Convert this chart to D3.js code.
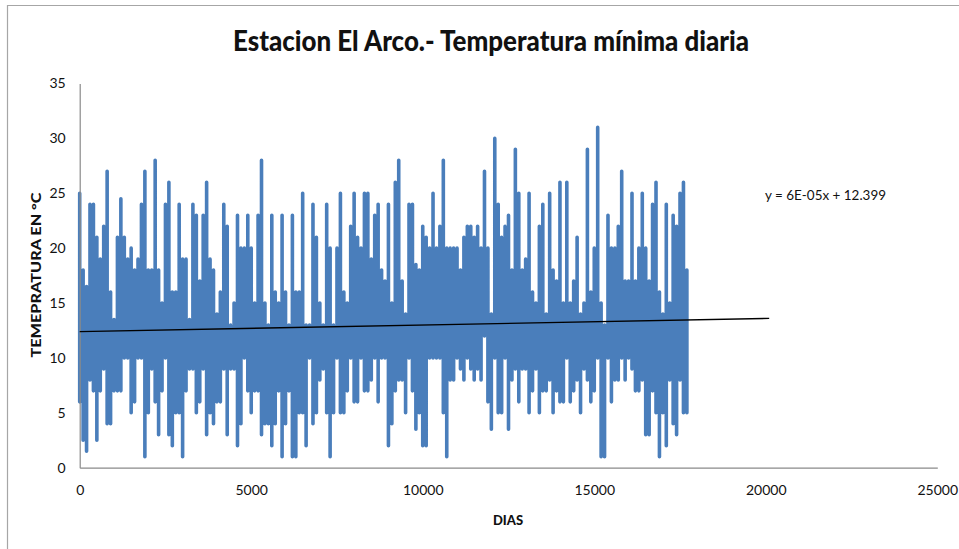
<!DOCTYPE html>
<html><head><meta charset="utf-8">
<script src="https://cdn.jsdelivr.net/npm/d3@7"></script>
<style>html,body{margin:0;padding:0;background:#fff}svg{display:block}text{font-family:Lato,"Noto Sans",sans-serif;fill:#111}</style>
</head><body><div id="c"></div>
<script>
const titleText = "Estacion El Arco.- Temperatura mínima diaria";
const xTitle = "DIAS";
const yTitle = "TEMEPRATURA EN °C";
const trendLabel = "y = 6E-05x + 12.399";
const xTicks = [0,5000,10000,15000,20000,25000];
const yTicks = [0,5,10,15,20,25,30,35];
const trendDays = [0,20100];
const trendSlope = 6e-5, trendIntercept = 12.399;
const dayStep = 100;
// Upper and lower reach of the daily series in each 100-day window
const highs = [25,18,16.5,24,24,21,19,22,27,16,13.5,21,24.5,21,19,20,18,19,24,27,18,18,28,18,15,24,26,16,16,24,19,19,13.5,24,23,17,23,26,19,18,14,16,24,22,13,15,23,20,20,23,20,15,23,28,15,13,23,16,15,23,16,13,23,16,16,25,13,13,24,21,15,13,24,20,13,20,25,16,15,22,25,21,20,25,25,19,23,24,18,17,24,
15,26,28,17,14,24,24,18.5,18,22,21,20,25,20,22,28,20,20,20,20,18,21,22,22,21,22,20,27,20,14,30,24,21,22,23,18,29,25,18,19,25,16,15,22,24,14,25,18,17,26,15,26,15,17,21,14,15,29,16,20,31,15,13,23,20,20,22,27,17,17,25,17,20,25,20,17,24,26,16,14,24,15,23,22,25,26,18];
const lows = [6,2.5,1.5,8,7,2.5,7,9,4,4,7,7,7,10,10,5,6,10,10,1,5,9,6,3,7,10,3,2,5,5,1,7,9,9,5,6,9,3,5,4,6,6,9,3,9,9,2,4,10,7,5,7,7,3,4,4,2,4,7,1,4,7,1,1,5,5,2,10,4,5,8,9,5,1,5,10,5,5,7,10,6,6,10,7,7,8,10,6,10,10,2,
4,7,8,8,5,10,7,3.5,5,2,2,10,10,10,10,5,1,8,8,10,9,8,10,9,8,9,8,12,6,3.5,10,5,5,10,3.5,8,9,6,9,9,5,7,9,5,7,7,8,5,7,6,6,10,6,7,8,5,9,8,6,7,10,1,1,10,6,8,8,10,8,10,9,7,7,8,3,3,7,5,1,5,2,8,4,3,8,5,5];

const W=959,H=549;
const m={l:79.7,r:937.3,t:83.5,b:467.7};
const x=d3.scaleLinear().domain([0,25000]).range([m.l,m.r]);
const y=d3.scaleLinear().domain([0,35]).range([m.b,m.t]);
const svg=d3.select("#c").append("svg").attr("width",W).attr("height",H);

// chart frame
svg.append("path").attr("d",d3.line()([[7.5,H],[7.5,5.5],[W,5.5]])).attr("fill","none").attr("stroke","#a6a6a6").attr("stroke-width",1.2);

// series: each window is one up-and-down stroke of the daily line
const pts=[];
highs.forEach((h,i)=>{
  const d=i*dayStep;
  pts.push([d,h]);pts.push([d,lows[i]]);pts.push(null);
});
const line=d3.line().defined(d=>d!==null).x(d=>x(d[0])).y(d=>y(d[1]));
svg.append("path").datum(pts).attr("d",line).attr("fill","none").attr("stroke","#4a7ebb").attr("stroke-width",3.6).attr("stroke-linejoin","round").attr("stroke-linecap","round");

// axes
const gx=svg.append("g").attr("transform",`translate(0,${m.b})`).call(d3.axisBottom(x).tickValues(xTicks).tickSize(0).tickPadding(17).tickFormat(d3.format("d")));
const gy=svg.append("g").attr("transform",`translate(${m.l},0)`).call(d3.axisLeft(y).tickValues(yTicks).tickSize(0).tickPadding(14));
[gx,gy].forEach(g=>{g.selectAll("text").style("font-size","14px").attr("fill","#111");g.select(".domain").attr("stroke","#8a8a8a").attr("stroke-width",1.2);});

// trend
svg.append("path").datum(trendDays.map(d=>[d,trendSlope*d+trendIntercept])).attr("d",line).attr("fill","none").attr("stroke","#000").attr("stroke-width",1.4);

svg.append("text").attr("x",491).attr("y",51).attr("text-anchor","middle").attr("font-weight",900).attr("font-size",29).attr("textLength",516).attr("lengthAdjust","spacingAndGlyphs").text(titleText);
svg.append("text").attr("x",508).attr("y",525).attr("text-anchor","middle").attr("font-weight",900).attr("font-size",13).text(xTitle);
svg.append("text").attr("transform","translate(41,275) rotate(-90)").attr("text-anchor","middle").attr("font-weight",900).attr("font-size",14).attr("textLength",165).attr("lengthAdjust","spacingAndGlyphs").text(yTitle);
svg.append("text").attr("x",765).attr("y",200).attr("font-size",14).attr("textLength",121).attr("lengthAdjust","spacingAndGlyphs").text(trendLabel);
</script></body></html>
